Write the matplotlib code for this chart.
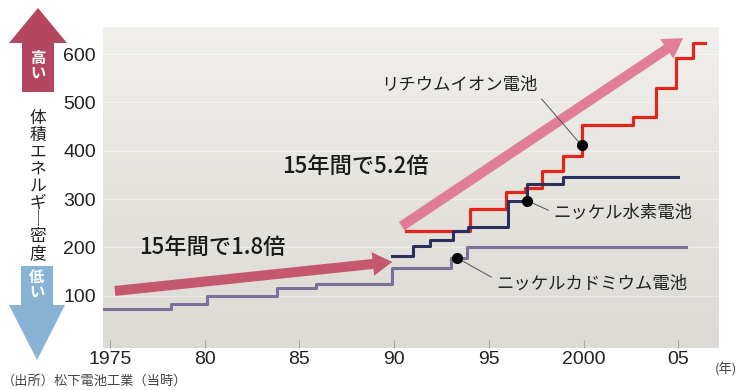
import numpy as np
import matplotlib.pyplot as plt
from matplotlib.patches import Polygon
from matplotlib.colors import LinearSegmentedColormap

plt.rcParams['font.family'] = ['Noto Sans CJK JP', 'DejaVu Sans']

# 電池ごとの体積エネルギー密度（階段状の推移）: 各段の開始年と値
nicd_years = [1974.5, 1978.2, 1980.1, 1983.8, 1985.9, 1989.9, 1993.0, 1993.85]
nicd_values = [73, 83, 100, 117, 125, 158, 179, 200]
nicd_end = 2005.4

nimh_years = [1989.9, 1991.0, 1991.9, 1993.1, 1993.9, 1996.0, 1997.0, 1998.9]
nimh_values = [183, 202, 216, 235, 243, 297, 332, 345]
nimh_end = 2005.0

liion_years = [1990.6, 1994.0, 1995.9, 1996.9, 1997.8, 1998.9, 1999.9,
               2002.6, 2003.8, 2004.9, 2005.8]
liion_values = [235, 280, 314, 324, 359, 390, 453, 469, 529, 592, 623]
liion_end = 2006.4

# ラベルの引き出し点
anchor_years = [1993.3, 1997.0, 1999.9]
anchor_values = [179, 297, 411]

tick_years = [1975, 1980, 1985, 1990, 1995, 2000, 2005]
tick_labels = ['1975', '80', '85', '90', '95', '2000', '05']
y_ticks = [100, 200, 300, 400, 500, 600]


def stairs(years, values, end):
    return list(years) + [end], list(values) + [values[-1]]


fig = plt.figure(figsize=(7.41, 3.90), dpi=100)
ax = fig.add_axes([103 / 741, 1 - 348 / 390, 616 / 741, 321 / 390])

# 背景のグレー（上ほど明るい）
bg = LinearSegmentedColormap.from_list('bg', ['#dcdad5', '#e5e3de', '#f1f0ec'])
ax.imshow(np.linspace(0, 1, 256).reshape(-1, 1), extent=[0, 1, 0, 1],
          transform=ax.transAxes, cmap=bg, aspect='auto', origin='lower', zorder=0)

ax.set_xlim(1974.63, 2007.15)
ax.set_ylim(-8, 656)
for s in ax.spines.values():
    s.set_visible(False)

ax.set_yticks(y_ticks)
ax.set_yticklabels([str(v) for v in y_ticks])
ax.set_xticks(tick_years)
ax.set_xticklabels(tick_labels)
ax.tick_params(axis='x', direction='in', length=6, color='#a8a8a8', pad=2,
               labelsize=14, labelcolor='#222222')
ax.tick_params(axis='y', length=0, pad=5, labelsize=14, labelcolor='#222222')
for lab in ax.get_xticklabels() + ax.get_yticklabels():
    lab.set_family(['Liberation Sans'])
ax.grid(axis='y', color='white', lw=0.9, alpha=0.45)
ax.set_axisbelow(True)

# 階段グラフ
x, y = stairs(nicd_years, nicd_values, nicd_end)
ax.step(x, y, where='post', color='#7c6f99', lw=2.2, zorder=3)
x, y = stairs(liion_years, liion_values, liion_end)
ax.step(x, y, where='post', color='#e2261c', lw=2.3, zorder=4)
x, y = stairs(nimh_years, nimh_values, nimh_end)
ax.step(x, y, where='post', color='#2b2f5c', lw=2.2, zorder=5)

# 大きな矢印
ax.annotate('', xy=(1989.9, 170), xytext=(1975.26, 110),
            arrowprops=dict(arrowstyle='simple,tail_width=0.36,head_width=0.85,head_length=0.7',
                            mutation_scale=20, color='#c24a60', alpha=0.9,
                            shrinkA=0, shrinkB=0, lw=0), zorder=6)
ax.annotate('', xy=(2005.25, 633), xytext=(1990.4, 244),
            arrowprops=dict(arrowstyle='simple,tail_width=0.36,head_width=0.85,head_length=0.7',
                            mutation_scale=20, color='#e0728f', alpha=0.9,
                            shrinkA=0, shrinkB=0, lw=0), zorder=6)
ax.text(1980.4, 200, '15年間で1.8倍', fontsize=16, color='#1a1a1a',
        fontweight='medium', ha='center', va='center', zorder=7)
ax.text(1987.94, 368, '15年間で5.2倍', fontsize=16, color='#1a1a1a',
        fontweight='medium', ha='center', va='center', zorder=7)

# 電池名ラベルと引き出し線
ax.plot(anchor_years, anchor_values, 'o', color='black', ms=7, zorder=8)
labels = ['ニッケルカドミウム電池', 'ニッケル水素電池', 'リチウムイオン電池']
label_pos = [(2000.45, 125), (2002.1, 272), (1993.43, 536)]
rel = [(0, 0.7), (0, 0.5), (1, 0)]
for lab, ax_, av, pos, rp in zip(labels, anchor_years, anchor_values, label_pos, rel):
    ax.annotate(lab, xy=(ax_, av), xytext=pos, fontsize=12.5, color='#222222',
                ha='center', va='center', zorder=7,
                arrowprops=dict(arrowstyle='-', color='#555555', lw=0.7,
                                shrinkA=2, shrinkB=0, relpos=rp))

# 左側の「高い」「低い」矢印
deco = fig.add_axes([0, 0, 1, 1], zorder=-1)
deco.set_xlim(0, 741)
deco.set_ylim(390, 0)
deco.axis('off')
deco.add_patch(Polygon([(38, 8), (67, 43), (54, 43), (54, 92), (22, 92), (22, 43), (9, 43)],
                       closed=True, color='#b4475f', lw=0))
deco.add_patch(Polygon([(21, 266), (53, 266), (53, 305), (65, 305), (37, 360), (9, 305), (21, 305)],
                       closed=True, color='#89b3d4', lw=0))
deco.text(38, 66, '高\nい', color='white', fontsize=11, fontweight='bold',
          ha='center', va='center', linespacing=1.0)
deco.text(37, 285, '低\nい', color='white', fontsize=11, fontweight='bold',
          ha='center', va='center', linespacing=1.0)
deco.text(38, 186, '\n'.join('体積エネルギ｜密度'), color='#222222', fontsize=12,
          ha='center', va='center', linespacing=1.0)

fig.text(2 / 741, 1 - 381 / 390, '（出所）松下電池工業（当時）', fontsize=9.5,
         color='#444444', va='center', ha='left')
fig.text(737 / 741, 1 - 369 / 390, '(年)', fontsize=9.5, color='#444444',
         va='center', ha='right')

fig.savefig('out.png', dpi=100)
